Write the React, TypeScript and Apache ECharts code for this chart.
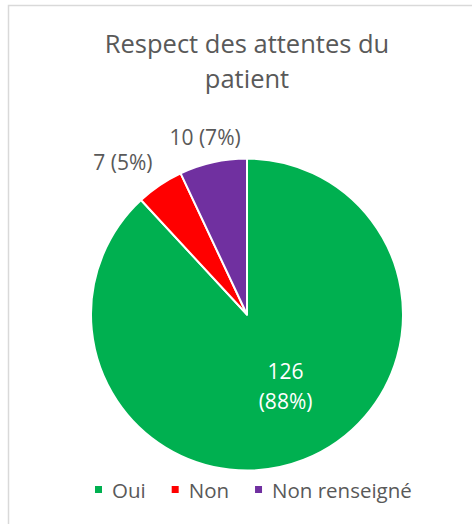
import React, { useEffect, useRef } from "react";
import * as echarts from "echarts";

const title = "Respect des attentes du\npatient";
const categories = ["Oui", "Non", "Non renseigné"];
const values = [126, 7, 10];
const percents = ["88%", "5%", "7%"];
const colors = ["#00B050", "#FF0000", "#7030A0"];

export default function App() {
  const ref = useRef<HTMLDivElement>(null);
  useEffect(() => {
    document.body.style.margin = "0";
    const chart = echarts.init(ref.current!, null, { renderer: "svg" });
    const font = "'Open Sans', 'Noto Sans', sans-serif";
    const data = categories.map((name, i) => {
      const item: any = {
        name,
        value: values[i],
        itemStyle: { color: colors[i] },
      };
      if (i === 0) {
        item.label = {
          position: "inside",
          color: "#FFFFFF",
          formatter: `${values[i]}\n(${percents[i]})`,
          lineHeight: 30,
        };
      } else {
        item.label = {
          position: "outside",
          color: "#595959",
          formatter: `${values[i]} (${percents[i]})`,
          distanceToLabelLine: 0,
        };
        item.labelLine = { show: false, length: 6, length2: 0 };
      }
      return item;
    });
    const shifts = [
      { dx: 9, dy: -4 },
      { dx: -4, dy: -18 },
      { dx: 29, dy: -19 },
    ];
    chart.setOption({
      animation: false,
      backgroundColor: "#FFFFFF",
      title: {
        text: title,
        left: 242,
        textAlign: "center",
        top: 20,
        textStyle: {
          color: "#595959",
          fontFamily: font,
          fontWeight: "normal",
          fontSize: 25.5,
          lineHeight: 35,
        },
      },
      graphic: [
        {
          type: "rect",
          shape: { x: 8.5, y: 5.5, width: 480, height: 540 },
          style: { fill: "none", stroke: "#D9D9D9", lineWidth: 1.5 },
          silent: true,
        },
      ],
      legend: {
        bottom: 24,
        left: 93,
        padding: 0,
        itemWidth: 9,
        itemHeight: 9,
        itemGap: 24,
        icon: "rect",
        textStyle: {
          color: "#595959",
          fontFamily: font,
          fontSize: 20.5,
          padding: [0, 0, 0, 4],
        },
        data: categories,
      },
      series: [
        {
          type: "pie",
          center: [247, 314.5],
          radius: [0, 156],
          startAngle: 90,
          clockwise: true,
          avoidLabelOverlap: false,
          itemStyle: { borderColor: "#FFFFFF", borderWidth: 2 },
          label: { fontFamily: font, fontSize: 21 },
          labelLayout: (p: any) => shifts[p.dataIndex],
          data,
        },
      ],
    });
    return () => chart.dispose();
  }, []);
  return <div ref={ref} style={{ width: 472, height: 524 }} />;
}
